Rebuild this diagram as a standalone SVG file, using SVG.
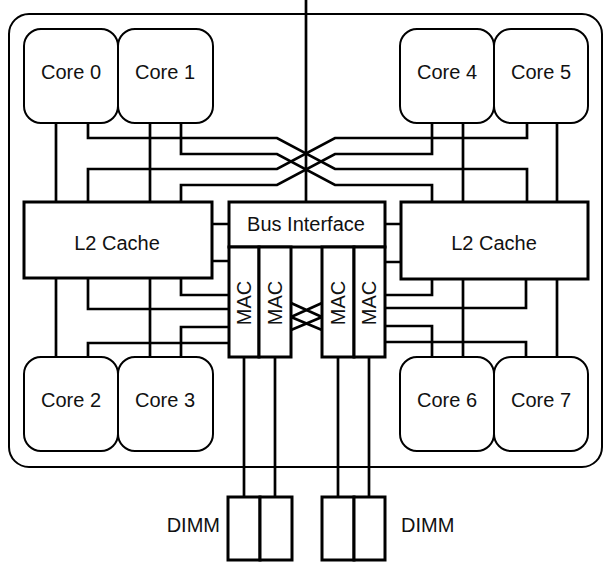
<svg xmlns="http://www.w3.org/2000/svg" width="605" height="563" viewBox="0 0 605 563">
<style>
.t{font-family:"Liberation Sans",Arial,sans-serif;font-size:20px;fill:#111}
.c{fill:#fff;stroke:#000;stroke-width:2}
.b{fill:#fff;stroke:#000;stroke-width:3}
.w{fill:none;stroke:#000;stroke-width:2.7;stroke-linejoin:miter}
</style>
<rect width="605" height="563" fill="#fff"/>
<g id="chip"><rect x="9" y="14" width="593" height="453" rx="20" fill="none" stroke="#000" stroke-width="2"/></g>
<g id="connectors" class="w">
<path class="w" d="M306,0 V202"/>
<path class="w" d="M56,123 V202 M150,123 V202 M463,123 V202 M557,123 V202"/>
<path class="w" d="M88,123 V138 H277 L335,169 H527 V202"/>
<path class="w" d="M181,123 V154 H277 L335,185 H432 V202"/>
<path class="w" d="M432,123 V154 H335 L277,185 H181 V202"/>
<path class="w" d="M527,123 V138 H335 L277,169 H88 V202"/>
<path class="w" d="M212,224 H229 M212,261 H229 M385,224 H401 M385,262 H401"/>
<path class="w" d="M56,278 V357 M150,278 V357 M181,278 V295 H229 M88,278 V309 H229 M229,327 H181 V357 M229,343 H88 V357"/>
<path class="w" d="M463,279 V357 M557,279 V357 M432,279 V295 H385 M526,279 V308 H385 M385,326 H432 V357 M385,342 H526 V357"/>
<path class="w" d="M291,303 L322,317 M291,317 L322,303 M291,317 L322,330 M291,330 L322,317"/>
<path class="w" d="M244,357 V497 M275,357 V497 M338,357 V497 M369,357 V497"/>
</g>
<g id="core0"><rect class="c" x="24" y="29" width="94" height="94" rx="17"/><text class="t" x="71" y="79" text-anchor="middle">Core 0</text></g>
<g id="core1"><rect class="c" x="118" y="29" width="95" height="94" rx="17"/><text class="t" x="165" y="79" text-anchor="middle">Core 1</text></g>
<g id="core4"><rect class="c" x="400" y="29" width="94" height="94" rx="17"/><text class="t" x="447" y="79" text-anchor="middle">Core 4</text></g>
<g id="core5"><rect class="c" x="494" y="29" width="94" height="94" rx="17"/><text class="t" x="541" y="79" text-anchor="middle">Core 5</text></g>
<g id="core2"><rect class="c" x="24" y="357" width="94" height="94" rx="17"/><text class="t" x="71" y="407" text-anchor="middle">Core 2</text></g>
<g id="core3"><rect class="c" x="118" y="357" width="95" height="94" rx="17"/><text class="t" x="165" y="407" text-anchor="middle">Core 3</text></g>
<g id="core6"><rect class="c" x="400" y="357" width="94" height="94" rx="17"/><text class="t" x="447" y="407" text-anchor="middle">Core 6</text></g>
<g id="core7"><rect class="c" x="494" y="357" width="94" height="94" rx="17"/><text class="t" x="541" y="407" text-anchor="middle">Core 7</text></g>
<g id="l2left"><rect class="b" x="24" y="202" width="188" height="76"/><text class="t" x="117" y="250" text-anchor="middle">L2 Cache</text></g>
<g id="l2right"><rect class="b" x="401" y="202" width="187" height="77"/><text class="t" x="494" y="250" text-anchor="middle">L2 Cache</text></g>
<g id="bus"><rect class="b" x="229" y="202" width="156" height="45"/><text class="t" x="306" y="231" text-anchor="middle">Bus Interface</text></g>
<g id="mac0"><rect class="b" x="229" y="247" width="30" height="110"/><text class="t" transform="translate(244,303) rotate(-90)" text-anchor="middle" dominant-baseline="central">MAC</text></g>
<g id="mac1"><rect class="b" x="259" y="247" width="32" height="110"/><text class="t" transform="translate(275,303) rotate(-90)" text-anchor="middle" dominant-baseline="central">MAC</text></g>
<g id="mac2"><rect class="b" x="322" y="247" width="32" height="110"/><text class="t" transform="translate(338,303) rotate(-90)" text-anchor="middle" dominant-baseline="central">MAC</text></g>
<g id="mac3"><rect class="b" x="354" y="247" width="31" height="110"/><text class="t" transform="translate(369,303) rotate(-90)" text-anchor="middle" dominant-baseline="central">MAC</text></g>
<g id="dimmleft"><rect class="b" x="228" y="497" width="32" height="63"/><rect class="b" x="260" y="497" width="32" height="63"/><text class="t" x="220" y="532" text-anchor="end">DIMM</text></g>
<g id="dimmright"><rect class="b" x="322" y="497" width="32" height="63"/><rect class="b" x="354" y="497" width="31" height="63"/><text class="t" x="401" y="532">DIMM</text></g>
</svg>
